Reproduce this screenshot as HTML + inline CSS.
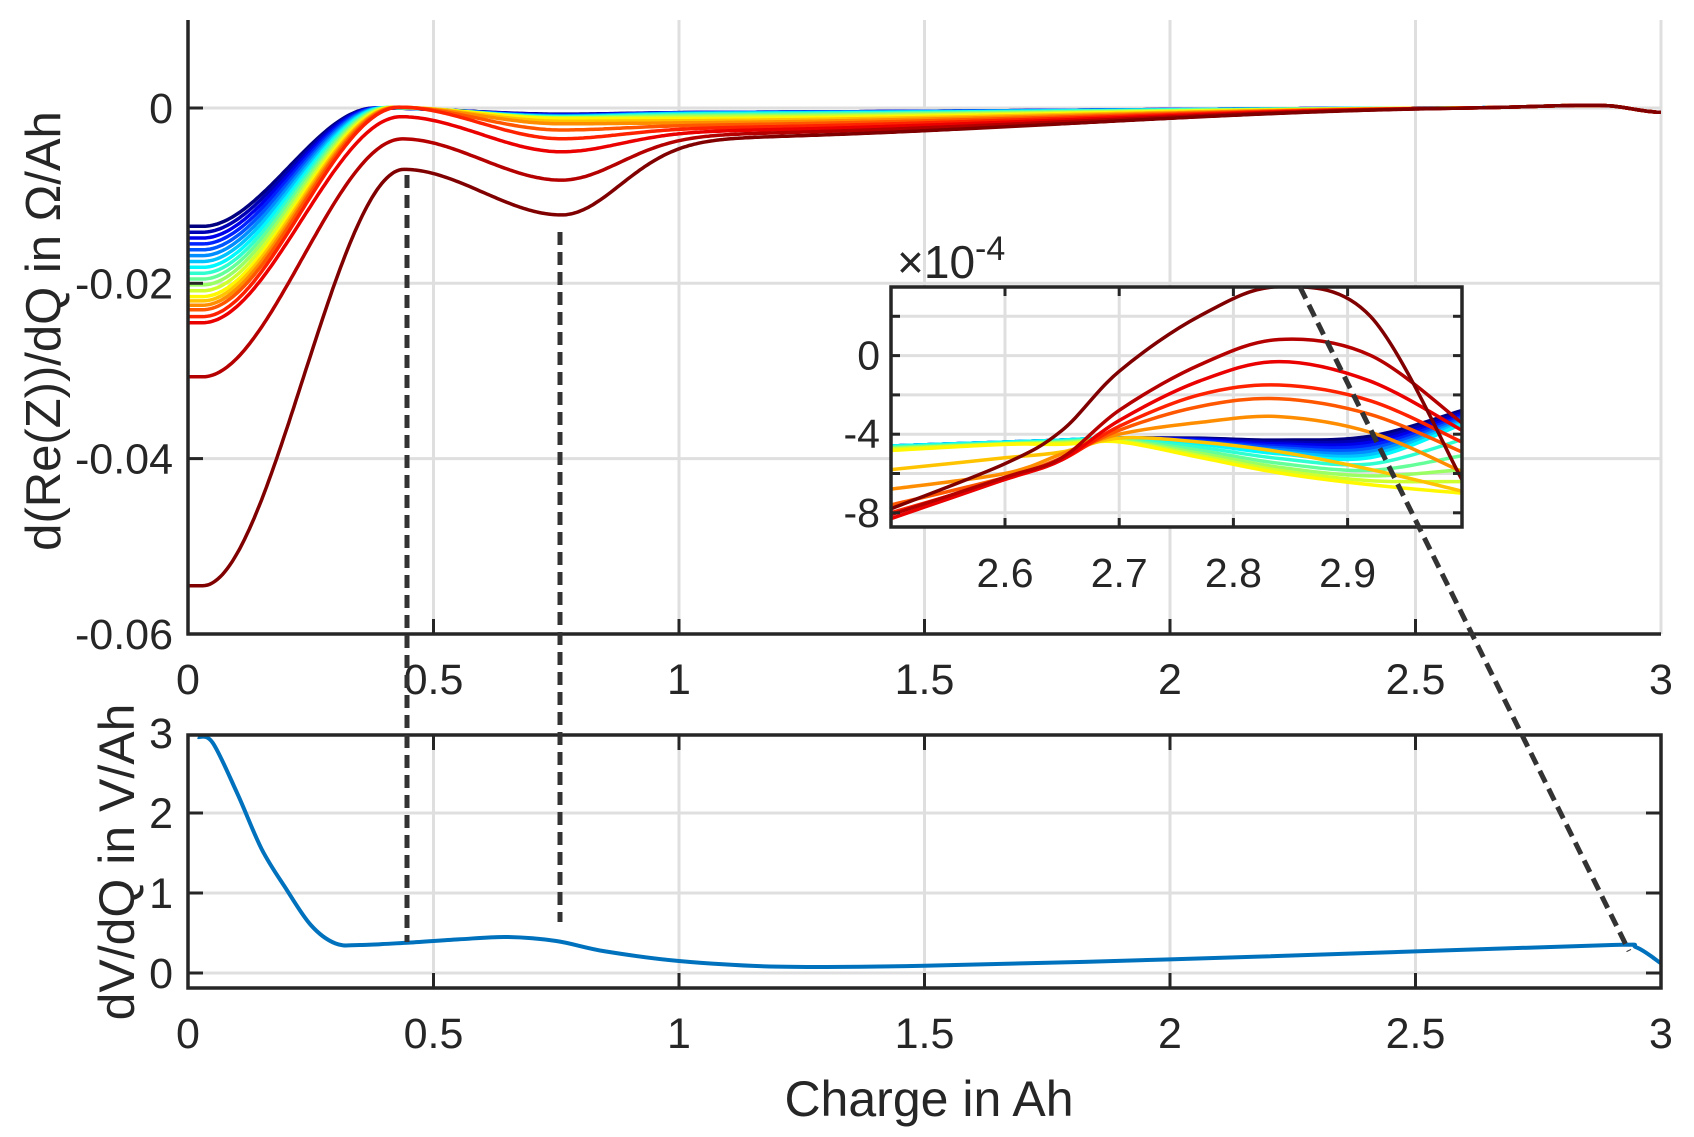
<!DOCTYPE html>
<html><head><meta charset="utf-8"><style>
html,body{margin:0;padding:0;background:#fff}
svg{display:block}
text{font-family:"Liberation Sans",Arial,sans-serif;fill:#262626}
</style></head><body>
<svg id="s" width="1694" height="1137" viewBox="0 0 1694 1137" xmlns="http://www.w3.org/2000/svg">
<defs><clipPath id="ci"><rect x="891" y="287" width="571" height="240"/></clipPath>
<clipPath id="ct"><rect x="188" y="20" width="1473" height="614"/></clipPath></defs>
<g id="g"></g>
</svg>
<script>
const NS="http://www.w3.org/2000/svg",G=document.getElementById('g');
function el(n,a,p){const e=document.createElementNS(NS,n);for(const k in a)e.setAttribute(k,a[k]);(p||G).appendChild(e);return e;}
function txt(x,y,s,sz,anc,extra){const e=el('text',Object.assign({x:x,y:y,'font-size':sz,'text-anchor':anc||'middle'},extra||{}));e.textContent=s;return e;}
const X=x=>188+x*491, Y=y=>108-y*8765, Yb=v=>973-v*80;
const Xi=x=>1005+(x-2.6)*1142, Yi=v=>355.6-v*19.65;
const GR='#dfdfdf',AX='#262626';
function line(x1,y1,x2,y2,c,w,extra){return el('line',Object.assign({x1,y1,x2,y2,stroke:c,'stroke-width':w},extra||{}));}
[0.5,1,1.5,2,2.5,3].forEach(x=>line(X(x),20,X(x),634,GR,3));
[0,-0.02,-0.04].forEach(y=>line(188,Y(y),1661,Y(y),GR,3));
[0.5,1,1.5,2,2.5].forEach(x=>line(X(x),735,X(x),988,GR,3));
[0,1,2].forEach(v=>line(188,Yb(v),1661,Yb(v),GR,3));
function S(u){return u<0?0:u>1?1:u*u*(3-2*u);}
function lerpT(tab,t){for(let i=0;i<tab.length-1;i++){if(t<=tab[i+1][0]){const f=(t-tab[i][0])/(tab[i+1][0]-tab[i][0]);return tab[i][1]+f*(tab[i+1][1]-tab[i][1]);}}return tab[tab.length-1][1];}
function jet(t){const c=v=>Math.round(255*Math.max(0,Math.min(1,v)));return `rgb(${c(1.5-Math.abs(4*t-3))},${c(1.5-Math.abs(4*t-2))},${c(1.5-Math.abs(4*t-1))})`;}
const A0=[[0,-0.0135],[0.63,-0.0215],[0.737,-0.0225],[0.789,-0.023],[0.842,-0.0238],[0.895,-0.0245],[0.947,-0.0305],[1,-0.0545]];
const P=[[0,0],[0.842,0.0001],[0.895,-0.001],[0.947,-0.0035],[1,-0.007]];
const D=[[0,-0.0007],[0.63,-0.0012],[0.737,-0.0018],[0.789,-0.0025],[0.842,-0.0035],[0.895,-0.005],[0.947,-0.0082],[1,-0.0122]];
function T(x,t){return -(0.0005+0.003*Math.pow(t,3))*(1-S((x-0.9)/1.8))+0.0003*Math.exp(-Math.pow((x-2.85)/0.15,2))-0.0006*S((x-2.88)/0.12);}
function f(x,t){const a0=lerpT(A0,t),p=lerpT(P,t),d=lerpT(D,t),xp=0.38+0.06*t,xd=0.76;
 if(x<=xp)return a0+(p-a0)*S((x-0.03)/(xp-0.03));
 if(x<=xd)return p+(d-p)*S((x-xp)/(xd-xp));
 return T(x,t)+(d-T(xd,t))*Math.exp(-Math.pow((x-xd)/0.17,2));}
const N=20;const tg=el('g',{'clip-path':'url(#ct)'});
for(let i=0;i<N;i++){const t=i/(N-1);let d='';for(let x=0;x<=3.0001;x+=0.005){d+=(x===0?'M':'L')+X(x).toFixed(1)+','+Y(f(x,t)).toFixed(1);}
 el('path',{d:d,fill:'none',stroke:jet(t),'stroke-width':3.5},tg);}
function cr(pts){let d='M'+pts[0][0]+','+pts[0][1];for(let i=0;i<pts.length-1;i++){const p0=pts[Math.max(0,i-1)],p1=pts[i],p2=pts[i+1],p3=pts[Math.min(pts.length-1,i+2)];
 d+=`C${(p1[0]+(p2[0]-p0[0])/6).toFixed(1)},${(p1[1]+(p2[1]-p0[1])/6).toFixed(1)} ${(p2[0]-(p3[0]-p1[0])/6).toFixed(1)},${(p2[1]-(p3[1]-p1[1])/6).toFixed(1)} ${p2[0].toFixed(1)},${p2[1].toFixed(1)}`;}return d;}
const bp=[[0.02,2.95],[0.05,2.88],[0.1,2.25],[0.15,1.55],[0.2,1.05],[0.25,0.6],[0.3,0.37],[0.35,0.35],[0.45,0.38],[0.55,0.42],[0.65,0.45],[0.75,0.4],[0.85,0.27],[1.0,0.15],[1.2,0.08],[1.5,0.09],[2.0,0.17],[2.5,0.27],[2.9,0.35],[2.95,0.32],[3.0,0.12]];
el('path',{d:cr(bp.map(p=>[X(p[0]),Yb(p[1])])),fill:'none',stroke:'#0072BD','stroke-width':4});
line(188,20,188,635.5,AX,3.5);line(186.5,634,1661,634,AX,3.5);
[0,-0.02,-0.04].forEach(y=>line(188,Y(y),203,Y(y),AX,3));
[0.5,1,1.5,2,2.5].forEach(x=>line(X(x),634,X(x),619,AX,3));
[['0',0],['-0.02',-0.02],['-0.04',-0.04],['-0.06',-0.06]].forEach(a=>txt(173,Y(a[1])+15,a[0],43,'end'));
[0,0.5,1,1.5,2,2.5,3].forEach(x=>txt(X(x),694,String(x),43));
el('rect',{x:188,y:735,width:1473,height:253,fill:'none',stroke:AX,'stroke-width':3.5});
[0,1,2].forEach(v=>{line(188,Yb(v),203,Yb(v),AX,3);line(1661,Yb(v),1646,Yb(v),AX,3);});
[0.5,1,1.5,2,2.5].forEach(x=>{line(X(x),988,X(x),973,AX,3);line(X(x),735,X(x),750,AX,3);});
[0,1,2,3].forEach(v=>txt(173,Yb(v)+15,String(v),43,'end'));
[0,0.5,1,1.5,2,2.5,3].forEach(x=>txt(X(x),1048,String(x),43));
txt(929,1116,'Charge in Ah',50);
txt(0,0,'d(Re(Z))/dQ in Ω/Ah',49,'middle',{transform:'translate(60,331) rotate(-90)'});
txt(0,0,'dV/dQ in V/Ah',50,'middle',{transform:'translate(134,862) rotate(-90)'});
el('rect',{x:891,y:287,width:571,height:240,fill:'#fff'});
[2.6,2.7,2.8,2.9].forEach(x=>line(Xi(x),287,Xi(x),527,GR,3));
[2,0,-2,-4,-6,-8].forEach(v=>line(891,Yi(v),1462,Yi(v),GR,3));
const xs=[2.5,2.6,2.65,2.7,2.77,2.84,2.92,3.0];
const anc=[[0,[-4.6,-4.4,-4.3,-4.2,-4.2,-4.3,-4.1,-2.8]],[0.37,[-4.6,-4.4,-4.3,-4.2,-4.5,-5.0,-5.2,-3.5]],[0.5,[-4.7,-4.5,-4.4,-4.3,-4.9,-5.6,-6.0,-5.5]],[0.63,[-4.8,-4.5,-4.5,-4.4,-5.2,-6.0,-6.6,-7.0]],[0.684,[-5.8,-5.2,-4.9,-4.2,-4.4,-4.9,-5.8,-6.9]],[0.737,[-6.8,-6.0,-5.0,-4.0,-3.4,-3.1,-3.9,-5.9]],[0.789,[-7.6,-6.2,-5.2,-3.8,-2.6,-2.2,-3.0,-4.9]],[0.842,[-8.0,-6.3,-5.3,-3.6,-2.0,-1.5,-2.3,-4.4]],[0.895,[-8.3,-6.3,-5.3,-3.3,-1.3,-0.3,-1.3,-3.8]],[0.947,[-8.1,-6.2,-5.2,-2.8,-0.5,0.8,0.0,-3.4]],[1,[-7.8,-5.5,-3.8,-0.8,2.0,3.5,2.0,-6.3]]];
function ianc(t){for(let i=0;i<anc.length-1;i++){if(t<=anc[i+1][0]+1e-9){const f=(t-anc[i][0])/(anc[i+1][0]-anc[i][0]);return anc[i][1].map((v,k)=>v+f*(anc[i+1][1][k]-v));}}return anc[anc.length-1][1];}
const ig=el('g',{'clip-path':'url(#ci)'});
for(let i=0;i<N;i++){const t=i/(N-1);const v=ianc(t);const d=cr(xs.map((x,k)=>[Xi(x),Yi(v[k])]));el('path',{d:d,fill:'none',stroke:jet(t),'stroke-width':3.5},ig);}
el('rect',{x:891,y:287,width:571,height:240,fill:'none',stroke:AX,'stroke-width':3.5});
[2.6,2.7,2.8,2.9].forEach(x=>{line(Xi(x),527,Xi(x),518,AX,3);line(Xi(x),287,Xi(x),296,AX,3);});
[2,0,-2,-4,-6,-8].forEach(v=>{line(891,Yi(v),900,Yi(v),AX,3);line(1462,Yi(v),1453,Yi(v),AX,3);});
[['0',0],['-4',-4],['-8',-8]].forEach(a=>txt(880,Yi(a[1])+14,a[0],41,'end'));
[2.6,2.7,2.8,2.9].forEach(x=>txt(Xi(x),587,String(x),41));
const m=txt(897,278,'×10',46,'start');const sp=el('tspan',{dy:-18,'font-size':34},m);sp.textContent='-4';
const dash={'stroke-dasharray':'13 7'};
line(407,175,407,942,'#333',5,dash);
line(560,232,560,922,'#333',5,dash);
line(1300,287,1629,951,'#333',5,dash);
</script>
</body></html>
